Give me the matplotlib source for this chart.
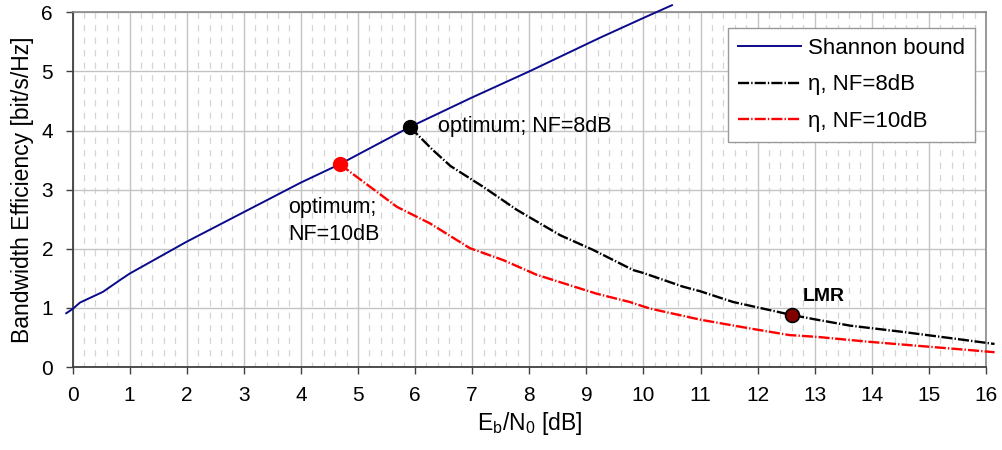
import matplotlib
matplotlib.use("Agg")
import matplotlib.pyplot as plt
from matplotlib.ticker import MultipleLocator

plt.rcParams['font.family'] = ['Liberation Sans', 'DejaVu Sans']
plt.rcParams['lines.scale_dashes'] = False
plt.rcParams['mathtext.default'] = 'regular'

# Shannon bound
shannon_x = [-0.11, 0.0, 0.13, 0.53, 0.83, 1.0, 2.0, 3.0, 4.0, 4.68, 5.91, 7.0, 8.0, 9.0, 9.24, 9.99, 10.5]
shannon_y = [0.91, 0.98, 1.09, 1.27, 1.47, 1.58, 2.12, 2.62, 3.12, 3.43, 4.06, 4.56, 5.0, 5.46, 5.57, 5.9, 6.12]

# eta, NF = 8 dB
nf8_x = [5.91, 6.3, 6.62, 7.19, 7.78, 8.54, 9.12, 9.82, 10.0, 10.69, 11.0, 11.57, 12.6, 13.04, 13.62, 14.49, 15.37, 16.15]
nf8_y = [4.06, 3.68, 3.40, 3.05, 2.66, 2.23, 1.98, 1.64, 1.59, 1.36, 1.28, 1.10, 0.88, 0.80, 0.70, 0.60, 0.49, 0.39]

# eta, NF = 10 dB
nf10_x = [4.68, 5.21, 5.68, 6.26, 6.96, 7.54, 8.13, 8.59, 9.18, 9.76, 10.11, 11.0, 11.88, 12.56, 13.04, 13.91, 14.79, 15.67, 16.15]
nf10_y = [3.43, 3.05, 2.71, 2.43, 2.01, 1.81, 1.56, 1.42, 1.24, 1.10, 0.99, 0.80, 0.65, 0.54, 0.51, 0.43, 0.36, 0.29, 0.25]

opt8 = (5.91, 4.06)
opt10 = (4.68, 3.43)
lmr = (12.6, 0.88)

x_ticks = list(range(0, 17))
y_ticks = list(range(0, 7))

fs = 15

fig = plt.figure(figsize=(10.02, 4.5), dpi=100)
ax = fig.add_axes([0.0724, 0.1844, 0.9116, 0.7883])

ax.set_xlim(0, 16)
ax.set_ylim(0, 6)
ax.set_xticks(x_ticks)
ax.set_yticks(y_ticks)
ax.xaxis.set_minor_locator(MultipleLocator(0.2))

# grid
ax.grid(True, which='major', axis='both', color='#c4c4c4', lw=1.0, ls='-', zorder=0)
ax.grid(True, which='minor', axis='x', color='#d4d4d4', lw=0.9, ls=(1, (4.5, 4.5)), zorder=0)
ax.set_axisbelow(True)
ax.tick_params(which='minor', length=0)
ax.tick_params(which='major', direction='out', length=5, width=1, color='#404040',
               labelsize=fs, pad=9)

for s in ['left', 'bottom']:
    ax.spines[s].set_color('#404040')
    ax.spines[s].set_linewidth(1.3)
for s in ['top', 'right']:
    ax.spines[s].set_color('#888888')
    ax.spines[s].set_linewidth(1.2)

ax.plot(shannon_x, shannon_y, color='#0a0a8c', lw=1.4, clip_on=False, zorder=3,
        label='Shannon bound')
ax.plot(nf8_x, nf8_y, color='black', lw=1.7, ls=(0, (8, 1.5, 1, 1.5)), clip_on=False, zorder=3,
        label='η, NF=8dB')
ax.plot(nf10_x, nf10_y, color='#ff0000', lw=1.7, ls=(0, (8, 1.5, 1, 1.5)), clip_on=False, zorder=3,
        label='η, NF=10dB')

ax.plot([opt10[0]], [opt10[1]], 'o', color='#ff0000', ms=10, zorder=4, clip_on=False)
ax.plot([opt8[0]], [opt8[1]], 'o', color='black', ms=10, zorder=4, clip_on=False)
ax.plot([lmr[0]], [lmr[1]], 'o', color='#800000', mec='black', mew=1.2, ms=10, zorder=4,
        clip_on=False)

ax.text(6.40, 4.06, 'optimum; NF=8dB', fontsize=15.5, va='center', ha='left', zorder=5)
ax.text(3.77, 2.47, 'optimum;\nNF=10dB', fontsize=15.5, va='center', ha='left',
        linespacing=1.4, zorder=5)
ax.text(12.79, 1.20, 'LMR', fontsize=14, fontweight='bold', va='center', ha='left', zorder=5)

ax.set_xlabel('E$_{b}$/N$_{0}$ [dB]', fontsize=16.5, labelpad=3)
ax.set_ylabel('Bandwidth Efficiency [bit/s/Hz]', fontsize=16.5, labelpad=5)

leg = ax.legend(loc='upper left', bbox_to_anchor=(0.7176, 0.956), fontsize=16,
                frameon=True, fancybox=False, shadow=False, handlelength=2.85,
                handletextpad=0.3, borderpad=0.45, labelspacing=0.7, borderaxespad=0)
leg.get_frame().set_edgecolor('#999999')
leg.get_frame().set_linewidth(1.0)
leg.get_frame().set_facecolor('white')
leg.get_frame().set_alpha(1)

fig.savefig('out.png', dpi=100)
